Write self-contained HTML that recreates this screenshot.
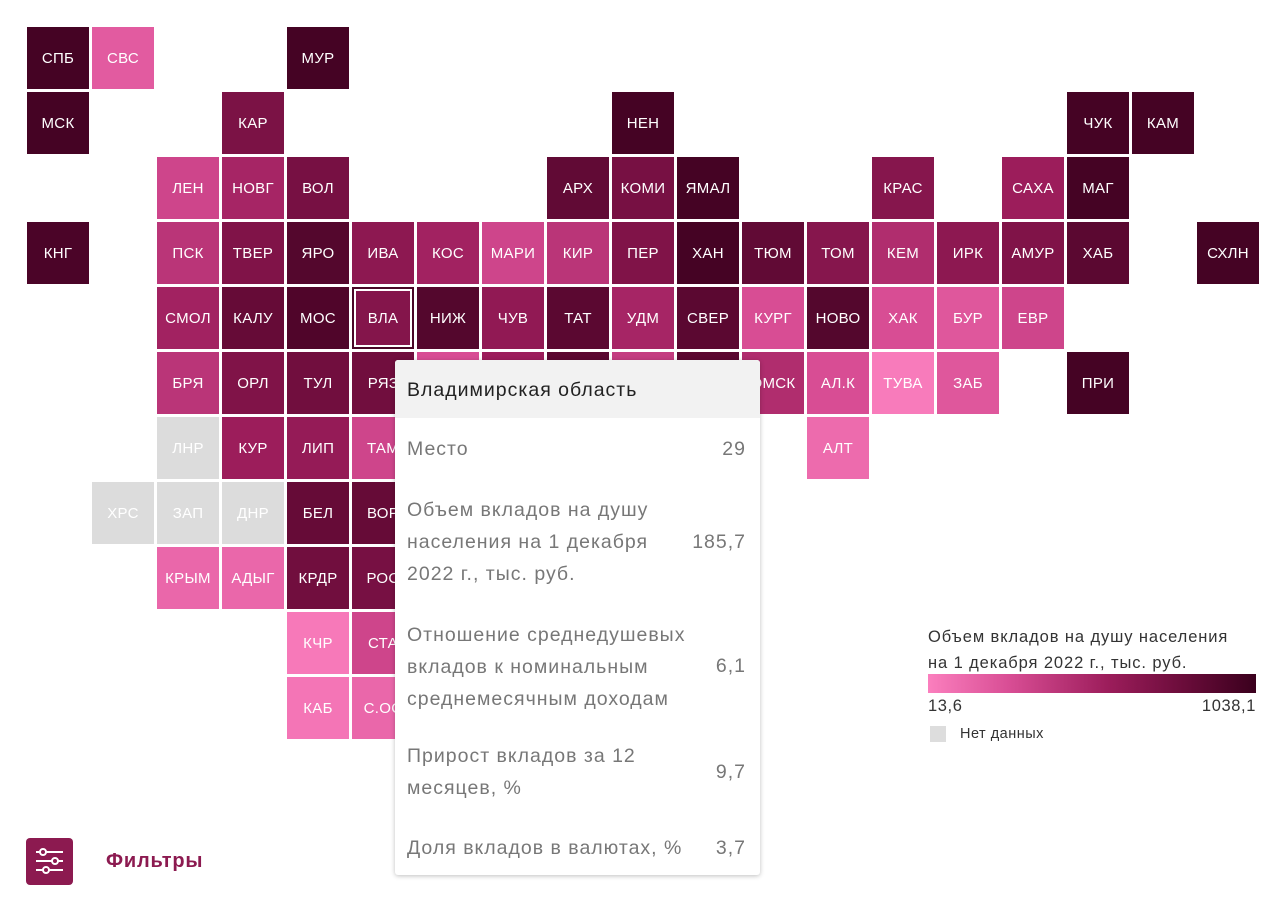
<!DOCTYPE html>
<html><head><meta charset="utf-8">
<style>
body{margin:0;width:1280px;height:904px;background:#fff;font-family:"Liberation Sans","Noto Sans CJK SC",sans-serif;position:relative;overflow:hidden}
.tile{position:absolute;width:62px;height:62px;color:#fff;font-size:15px;letter-spacing:0.3px;display:flex;align-items:center;justify-content:center;white-space:nowrap;overflow:hidden;cursor:pointer}
.tip{position:absolute;left:395px;top:360px;width:365px;height:515px;background:#fff;box-shadow:0 1px 5px rgba(0,0,0,.25);border-radius:3px;color:#777;font-size:19.5px;letter-spacing:1px}
.tip .hd{background:#f2f2f2;height:58px;line-height:60px;padding-left:12px;color:#222;border-radius:3px 3px 0 0}
.row{position:absolute;left:12px;right:14px}
.row .l{position:absolute;left:0;line-height:32px;white-space:nowrap}
.row .v{position:absolute;right:0}
</style></head><body>
<div id="map"></div>
<div class="tip">
 <div class="hd">Владимирская область</div>
 <div class="row" style="top:73px"><span class="l">Место</span><span class="v" style="top:0;line-height:32px">29</span></div>
 <div class="row" style="top:134px"><span class="l">Объем вкладов на душу<br>населения на 1 декабря<br>2022 г., тыс. руб.</span><span class="v" style="top:32px;line-height:32px">185,7</span></div>
 <div class="row" style="top:259px"><span class="l">Отношение среднедушевых<br>вкладов к номинальным<br>среднемесячным доходам</span><span class="v" style="top:31px;line-height:32px">6,1</span></div>
 <div class="row" style="top:380px"><span class="l">Прирост вкладов за 12<br>месяцев, %</span><span class="v" style="top:16px;line-height:32px">9,7</span></div>
 <div class="row" style="top:472px"><span class="l">Доля вкладов в валютах, %</span><span class="v" style="top:0;line-height:32px">3,7</span></div>
</div>
<div style="position:absolute;left:928px;top:624px;width:328px;color:#333">
 <div style="font-size:16.5px;letter-spacing:0.9px;line-height:26px;white-space:nowrap">Объем вкладов на душу населения<br>на 1 декабря 2022 г., тыс. руб.</div>
 <div style="height:19px;margin-top:-2px;background:linear-gradient(90deg,#fb7fbe,#d84d94 25%,#9c1d5b 55%,#6a0c3a 78%,#3a001d)"></div>
 <div style="position:relative;height:26px;font-size:16.5px;letter-spacing:0.6px;line-height:26px"><span style="position:absolute;left:0">13,6</span><span style="position:absolute;right:0">1038,1</span></div>
 <div style="position:relative;height:30px;font-size:14.5px;letter-spacing:0.5px;line-height:30px"><span style="position:absolute;left:2px;top:7px;width:16px;height:16px;background:#ddd"></span><span style="position:absolute;left:32px">Нет данных</span></div>
</div>
<div style="position:absolute;left:26px;top:838px;width:185px;height:47px;cursor:pointer">
 <div style="position:absolute;left:0;top:0;width:47px;height:47px;background:#8c1a50;border-radius:4px">
  <svg width="47" height="47"><g stroke="#fff" stroke-width="2" fill="#8c1a50"><line x1="10" y1="14" x2="37" y2="14"/><line x1="10" y1="23" x2="37" y2="23"/><line x1="10" y1="32" x2="37" y2="32"/><circle cx="17" cy="14" r="3"/><circle cx="29" cy="23" r="3"/><circle cx="20" cy="32" r="3"/></g></svg>
 </div>
 <span style="position:absolute;left:80px;top:12px;font-size:20px;letter-spacing:0.8px;font-weight:bold;color:#8c1a50">Фильтры</span>
</div>
<script>
const regionCodes=["СПБ","СВС","МУР","МСК","КАР","НЕН","ЧУК","КАМ","ЛЕН","НОВГ","ВОЛ","АРХ","КОМИ","ЯМАЛ","КРАС","САХА","МАГ","КНГ","ПСК","ТВЕР","ЯРО","ИВА","КОС","МАРИ","КИР","ПЕР","ХАН","ТЮМ","ТОМ","КЕМ","ИРК","АМУР","ХАБ","СХЛН","СМОЛ","КАЛУ","МОС","ВЛА","НИЖ","ЧУВ","ТАТ","УДМ","СВЕР","КУРГ","НОВО","ХАК","БУР","ЕВР","БРЯ","ОРЛ","ТУЛ","РЯЗ","ПЕНЗ","УЛЬ","САМ","ОРЕН","ЧЕЛ","ОМСК","АЛ.К","ТУВА","ЗАБ","ПРИ","ЛНР","КУР","ЛИП","ТАМ","АЛТ","ХРС","ЗАП","ДНР","БЕЛ","ВОР","КРЫМ","АДЫГ","КРДР","РОС","КЧР","СТА","КАБ","С.ОС"];
const regionCols=[0,1,4,0,3,9,16,17,2,3,4,8,9,10,13,15,16,0,2,3,4,5,6,7,8,9,10,11,12,13,14,15,16,18,2,3,4,5,6,7,8,9,10,11,12,13,14,15,2,3,4,5,6,7,8,9,10,11,12,13,14,16,2,3,4,5,12,1,2,3,4,5,2,3,4,5,4,5,4,5];
const regionRows=[0,0,0,1,1,1,1,1,2,2,2,2,2,2,2,2,2,3,3,3,3,3,3,3,3,3,3,3,3,3,3,3,3,3,4,4,4,4,4,4,4,4,4,4,4,4,4,4,5,5,5,5,5,5,5,5,5,5,5,5,5,5,6,6,6,6,6,7,7,7,7,7,8,8,8,8,9,9,10,10];
// relative color level 0..1 (null = no data)
const regionLevels=[0.95,0.18,0.95,0.95,0.7,0.95,0.95,0.95,0.3,0.5,0.72,0.82,0.72,0.95,0.65,0.55,0.95,0.92,0.4,0.68,0.88,0.62,0.52,0.3,0.4,0.68,0.95,0.82,0.65,0.45,0.62,0.68,0.85,0.95,0.52,0.8,0.9,0.66,0.88,0.6,0.85,0.5,0.85,0.25,0.88,0.25,0.2,0.3,0.4,0.68,0.75,0.75,0.25,0.55,0.85,0.35,0.85,0.45,0.25,0.02,0.2,0.95,null,0.55,0.58,0.3,0.1,null,null,null,0.8,0.8,0.12,0.12,0.75,0.72,0.03,0.3,0.05,0.12];
const stops=[[0,[251,127,190]],[0.25,[216,77,148]],[0.55,[156,29,91]],[0.78,[106,12,58]],[1,[58,0,29]]];
function colorScale(t){if(t===null)return "#dcdcdc";for(let i=1;i<stops.length;i++){if(t<=stops[i][0]){const a=stops[i-1],b=stops[i],f=(t-a[0])/(b[0]-a[0]);return "rgb("+a[1].map((c,k)=>Math.round(c+(b[1][k]-c)*f)).join(",")+")";}}return "rgb(58,0,29)";}
function xPos(c){return 27+c*65;}
function yPos(r){return 27+r*65;}
const map=document.getElementById('map');
regionCodes.forEach((code,i)=>{
  const el=document.createElement('div');
  el.className='tile';
  el.style.left=xPos(regionCols[i])+'px';
  el.style.top=yPos(regionRows[i])+'px';
  el.style.background=colorScale(regionLevels[i]);
  el.textContent=code;
  if(code==="ВЛА"){el.style.boxShadow="inset 0 0 0 2px #4a0627, inset 0 0 0 4px #fff";}
  
  
  map.appendChild(el);
});
</script>
</body></html>
